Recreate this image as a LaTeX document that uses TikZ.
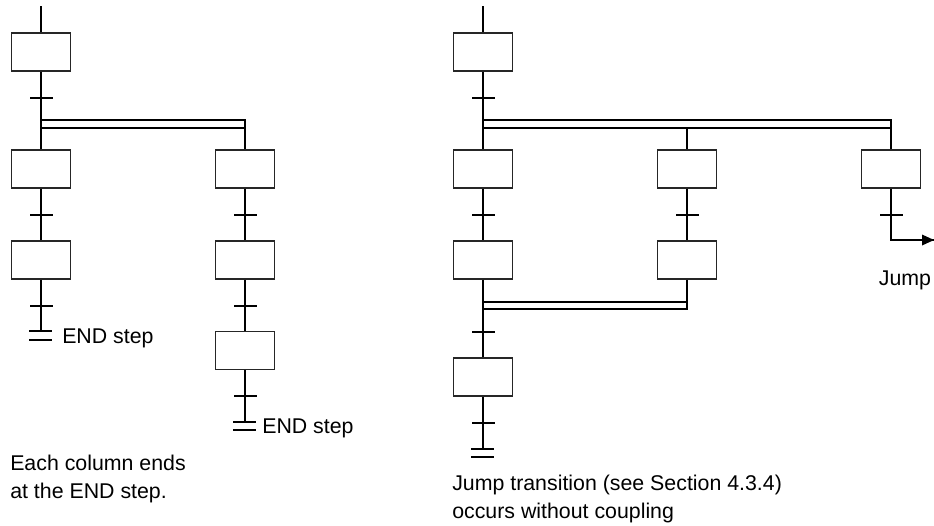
\documentclass[tikz,border=0pt]{standalone}
\usepackage{fontspec}
\setmainfont{Liberation Sans}
\usetikzlibrary{arrows.meta}
\begin{document}
\begin{tikzpicture}[x=0.75pt,y=-0.75pt,
 stepbox/.style={draw=black!85,line width=1.1pt,minimum width=44.25pt,minimum height=28.5pt,inner sep=0pt,fill=white},
 trans/.style={fill=black,minimum width=17.25pt,minimum height=1.5pt,inner sep=0pt},
 flow/.style={line width=1.5pt},
 lbl/.style={font=\fontsize{16}{22}\selectfont,inner sep=0pt}]
\useasboundingbox (0,0) rectangle (934,525);

% ===== Left diagram =====
\coordinate (Ltop) at (41,6);
\node[stepbox] (L1) at (41,52) {};
\node[trans] (Lt1) at (41,98) {};
\node[stepbox] (L2) at (41,169) {};
\node[stepbox] (R2) at (245,169) {};
\node[trans] (Lt2) at (41,215) {};
\node[trans] (Rt2) at (245,215) {};
\node[stepbox] (L3) at (41,260) {};
\node[stepbox] (R3) at (245,260) {};
\node[trans] (Lt3) at (41,306) {};
\node[trans] (Rt3) at (245,306) {};
\node[stepbox] (R4) at (245,350.5) {};
\node[trans] (Rt4) at (245,396) {};
\coordinate (LfA) at (41,120);
\coordinate (LfB) at (41,128);
\coordinate (RfB) at (245,128);
\coordinate (Lend) at (41,331);
\coordinate (Rend) at (245,422);

\draw[flow] (Ltop) -- (L1);
\draw[flow] (L1) -- (Lt1) -- (L2);
\draw[flow] (LfA) -| (R2);
\draw[flow] (LfB) -- (RfB);
\draw[flow] (L2) -- (Lt2) -- (L3);
\draw[flow] (L3) -- (Lt3) -- (Lend);
\draw[flow] (R2) -- (Rt2) -- (R3);
\draw[flow] (R3) -- (Rt3) -- (R4);
\draw[flow] (R4) -- (Rt4) -- (Rend);
% END double bars
\draw[flow] (29,331) -- (52,331) (29,340) -- (52,340);
\draw[flow] (233,422) -- (256,422) (233,430) -- (256,430);
\node[lbl,anchor=base west] (Lendtxt) at (62,343) {END step};
\node[lbl,anchor=base west] (Rendtxt) at (262,433) {END step};
\node[lbl,anchor=base west] (cap1a) at (10,470) {Each column ends};
\node[lbl,anchor=base west] (cap1b) at (10,498) {at the END step.};

% ===== Right diagram =====
\coordinate (Mtop) at (483,6);
\node[stepbox] (M1) at (483,52) {};
\node[trans] (Mt1) at (483,98) {};
\node[stepbox] (M2) at (483,169) {};
\node[stepbox] (N2) at (687,169) {};
\node[stepbox] (P2) at (891,169) {};
\node[trans] (Mt2) at (483,215) {};
\node[trans] (Nt2) at (687,215) {};
\node[trans] (Pt2) at (891,215) {};
\node[stepbox] (M3) at (483,260) {};
\node[stepbox] (N3) at (687,260) {};
\node[trans] (Mt3) at (483,332) {};
\node[stepbox] (M4) at (483,377) {};
\node[trans] (Mt4) at (483,423) {};
\coordinate (MfA) at (483,120);
\coordinate (MfB) at (483,128);
\coordinate (NfB) at (687,128);
\coordinate (PfB) at (891,128);
\coordinate (MjA) at (483,302);
\coordinate (MjB) at (483,309);
\coordinate (NjA) at (687,302);
\coordinate (NjB) at (687,309);
\coordinate (Pbend) at (891,240);
\coordinate (Parrow) at (934,240);
\coordinate (Mend) at (483,449);

\draw[flow] (Mtop) -- (M1);
\draw[flow] (M1) -- (Mt1) -- (M2);
\draw[flow] (MfA) -| (P2);
\draw[flow] (MfB) -- (PfB);
\draw[flow] (NfB) -- (N2);
\draw[flow] (M2) -- (Mt2) -- (M3);
\draw[flow] (N2) -- (Nt2) -- (N3);
\draw[flow] (P2) -- (Pt2) -- (Pbend) -- (Parrow);
\fill (934,240) -- (922,234.5) -- (922,245.5) -- cycle;
\draw[flow] (M3) -- (Mt3) -- (M4);
\draw[flow] (MjA) -- (NjA);
\draw[flow] (N3) -- (NjB) -- (MjB);
\draw[flow] (M4) -- (Mt4) -- (Mend);
\draw[flow] (471,449) -- (494,449) (471,457) -- (494,457);
\node[lbl,anchor=base] (jump) at (905,285) {Jump};
\node[lbl,anchor=base west] (cap2a) at (452,490) {Jump transition (see Section 4.3.4)};
\node[lbl,anchor=base west] (cap2b) at (452,518) {occurs without coupling};
\end{tikzpicture}
\end{document}
